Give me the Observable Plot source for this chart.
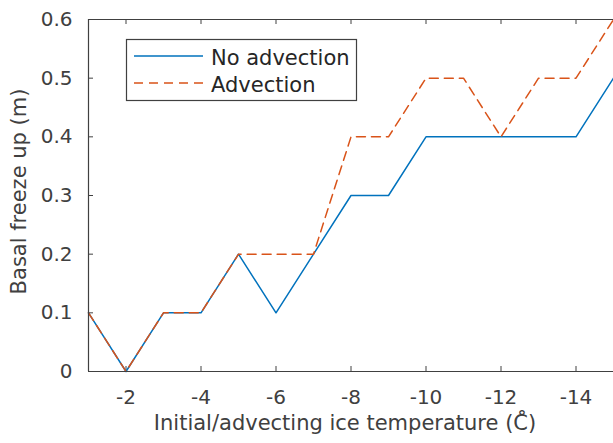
<!DOCTYPE html>
<html><head><meta charset="utf-8">
<script src="https://cdn.jsdelivr.net/npm/d3@7"></script>
<script src="https://cdn.jsdelivr.net/npm/@observablehq/plot@0.6"></script>
<style>
body{margin:0;background:#fff;}
#wrap{position:relative;width:613px;height:443px;font-family:"DejaVu Sans",sans-serif;color:#404040;}
#legend{position:absolute;left:0;top:0;}
</style>
</head><body><div id="wrap"><div id="chart"></div>
<svg id="legend" width="613" height="443" style="pointer-events:none">
  <rect x="126.5" y="39.5" width="230" height="61" fill="#fff" stroke="#404040" stroke-width="1.2"/>
  <line x1="134" x2="203" y1="56" y2="56" stroke="#0072BD" stroke-width="1.5"/>
  <line x1="134" x2="203" y1="83" y2="83" stroke="#D95319" stroke-width="1.5" stroke-dasharray="9,6"/>
  <text id="l1" x="211" y="64.5" font-family="DejaVu Sans, sans-serif" font-size="21" fill="#262626"></text>
  <text id="l2" x="211" y="91.5" font-family="DejaVu Sans, sans-serif" font-size="21" fill="#262626"></text>
</svg>
</div>
<script>
const temps = [-1,-2,-3,-4,-5,-6,-7,-8,-9,-10,-11,-12,-13,-14,-15];
const noAdvection = [0.1,0,0.1,0.1,0.2,0.1,0.2,0.3,0.3,0.4,0.4,0.4,0.4,0.4,0.5];
const advection = [0.1,0,0.1,0.1,0.2,0.2,0.2,0.4,0.4,0.5,0.5,0.4,0.5,0.5,0.6];
const seriesNames = ["No advection","Advection"];
const xTicks = [-2,-4,-6,-8,-10,-12,-14];
const yTicks = [0,0.1,0.2,0.3,0.4,0.5,0.6];
const xLabel = "Initial/advecting ice temperature (C\u030A)";
const yLabel = "Basal freeze up (m)";

document.getElementById("l1").textContent = seriesNames[0];
document.getElementById("l2").textContent = seriesNames[1];

const data1 = temps.map((t,i)=>({t, v:noAdvection[i], s:seriesNames[0]}));
const data2 = temps.map((t,i)=>({t, v:advection[i], s:seriesNames[1]}));

const W=613,H=443,mL=88,mR=0,mT=19,mB=72;
const xDom=[-1,-15], yDom=[0,0.6];
const tickPx=5;
const xTickLen = Math.abs(xDom[1]-xDom[0]) * tickPx / (W-mL-mR);
const yTickLen = Math.abs(yDom[1]-yDom[0]) * tickPx / (H-mT-mB);
const axisColor="#404040";

const chart = Plot.plot({
  width:W, height:H,
  marginLeft:mL, marginRight:mR, marginTop:mT, marginBottom:mB,
  style:{fontFamily:"DejaVu Sans, sans-serif", fontSize:"20px", color:axisColor, background:"#fff", overflow:"visible"},
  x:{domain:xDom, type:"linear"},
  y:{domain:yDom},
  marks:[
    Plot.axisX(xTicks,{anchor:"bottom", tickSize:0, tickPadding:18, tickFormat:d=>String(d), label:null, fontSize:20}),
    Plot.axisY(yTicks,{anchor:"left", tickSize:0, tickPadding:16, tickFormat:d=>String(d), label:null, fontSize:20}),
    Plot.ruleX(xTicks,{x:d=>d, y1:yDom[0], y2:yDom[0]+yTickLen, stroke:axisColor}),
    Plot.ruleX(xTicks,{x:d=>d, y1:yDom[1], y2:yDom[1]-yTickLen, stroke:axisColor}),
    Plot.ruleY(yTicks,{y:d=>d, x1:xDom[0], x2:xDom[0]-xTickLen, stroke:axisColor}),
    Plot.line(data1,{x:"t", y:"v", stroke:"#0072BD", strokeWidth:1.5}),
    Plot.line(data2,{x:"t", y:"v", stroke:"#D95319", strokeWidth:1.5, strokeDasharray:"9,6"}),
    Plot.ruleY([yDom[0], yDom[1]],{stroke:axisColor, strokeWidth:1.2}),
    Plot.ruleX([xDom[0]],{stroke:axisColor, strokeWidth:1.2}),
    Plot.text([yLabel],{text:d=>d, frameAnchor:"left", textAnchor:"middle", dx:-69, dy:-4, rotate:-90, fontSize:21, fill:axisColor}),
    Plot.text([xLabel],{text:d=>d, frameAnchor:"bottom", dy:58, dx:-6, fontSize:21, fill:axisColor})
  ]
});
document.getElementById("chart").appendChild(chart);
</script>
</body></html>
